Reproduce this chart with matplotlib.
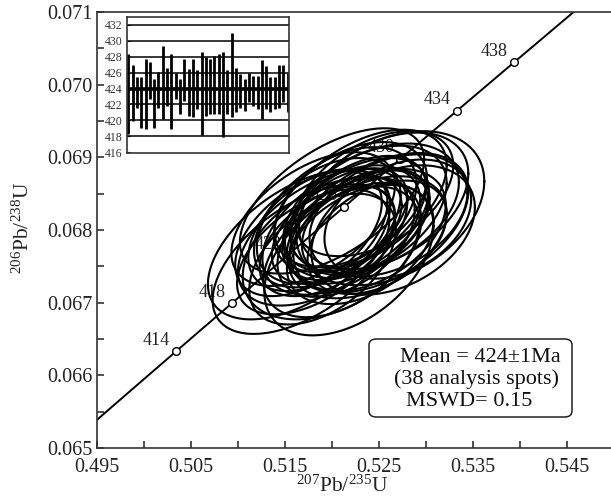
import numpy as np
import matplotlib
matplotlib.use("Agg")
import matplotlib.pyplot as plt
from matplotlib.ticker import FixedLocator, FormatStrFormatter
from matplotlib.patches import FancyBboxPatch

plt.rcParams['font.family'] = ['Liberation Serif', 'DejaVu Serif']
plt.rcParams['mathtext.fontset'] = 'custom'
plt.rcParams['mathtext.rm'] = 'Liberation Serif'
plt.rcParams['mathtext.it'] = 'Liberation Serif:italic'

# ---------------- data ----------------
# concordia age marks (Ma)
concordia_ages = [414, 418, 422, 426, 430, 434, 438]
concordia_range = [405, 445]
lambda238 = 1.55125e-10
lambda235 = 9.8485e-10

# error ellipses: centres (207Pb/235U, 206Pb/238U), half-extents, correlation
ell_x = [0.5190, 0.5210, 0.5225, 0.5200, 0.5235, 0.5180, 0.5245, 0.5215, 0.5170, 0.5260,
         0.5228, 0.5195, 0.5240, 0.5205, 0.5262, 0.5185, 0.5230, 0.5250, 0.5165, 0.5220,
         0.5210, 0.5255, 0.5200, 0.5238, 0.5218, 0.5190, 0.5265, 0.5245, 0.5175, 0.5228,
         0.5205, 0.5235, 0.5215, 0.5248, 0.5195, 0.5230, 0.5270, 0.5180]
ell_y = [0.06790, 0.06800, 0.06815, 0.06775, 0.06825, 0.06770, 0.06830, 0.06790, 0.06760, 0.06820,
         0.06805, 0.06810, 0.06800, 0.06820, 0.06830, 0.06800, 0.06780, 0.06810, 0.06780, 0.06835,
         0.06770, 0.06840, 0.06840, 0.06790, 0.06760, 0.06760, 0.06800, 0.06850, 0.06795, 0.06825,
         0.06800, 0.06810, 0.06815, 0.06790, 0.06785, 0.06840, 0.06815, 0.06815]
ell_sx = [0.0090, 0.0084, 0.0078, 0.0095, 0.0087, 0.0081, 0.0090, 0.0073, 0.0097, 0.0084,
          0.0076, 0.0078, 0.0081, 0.0085, 0.0100, 0.0074, 0.0078, 0.0095, 0.0097, 0.0081,
          0.0083, 0.0090, 0.0098, 0.0084, 0.0090, 0.0078, 0.0087, 0.0084, 0.0078, 0.0072,
          0.0069, 0.0067, 0.0065, 0.0074, 0.0072, 0.0092, 0.0078, 0.0087]
ell_sy = [0.00094, 0.00089, 0.00084, 0.00098, 0.00091, 0.00086, 0.00089, 0.00082, 0.00103, 0.00084,
          0.00079, 0.00089, 0.00084, 0.00094, 0.00106, 0.00084, 0.00082, 0.00096, 0.00103, 0.00086,
          0.00090, 0.00094, 0.00100, 0.00084, 0.00105, 0.00090, 0.00089, 0.00086, 0.00086, 0.00077,
          0.00074, 0.00072, 0.00070, 0.00078, 0.00076, 0.00098, 0.00082, 0.00092]
ell_rho = [0.50, 0.45, 0.47, 0.40, 0.43, 0.51, 0.40, 0.45, 0.55, 0.37,
           0.48, 0.43, 0.42, 0.47, 0.35, 0.45, 0.40, 0.45, 0.53, 0.43,
           0.45, 0.40, 0.57, 0.40, 0.43, 0.47, 0.35, 0.45, 0.50, 0.45,
           0.47, 0.43, 0.45, 0.40, 0.48, 0.50, 0.33, 0.51]

# inset: individual ages with error bars (Ma)
age_low = [418.3, 419.9, 421.6, 419.1, 418.9, 422.7, 419.0, 421.6, 420.2, 421.8,
           418.9, 422.7, 420.8, 422.5, 420.6, 420.4, 421.4, 418.2, 420.6, 420.8,
           420.8, 420.8, 417.9, 420.8, 420.4, 421.0, 421.6, 421.2, 422.3, 421.8,
           421.4, 420.2, 421.4, 421.0, 421.4, 421.6, 422.3, 421.0]
age_high = [428.4, 427.0, 425.5, 425.5, 427.7, 427.3, 425.2, 426.1, 429.3, 426.6,
            428.3, 426.0, 425.2, 427.7, 426.5, 427.7, 426.3, 428.6, 428.0, 427.7,
            428.1, 428.3, 428.6, 426.3, 431.0, 426.6, 425.8, 425.2, 425.9, 425.6,
            425.6, 427.6, 426.8, 425.4, 425.4, 427.0, 427.0, 426.0]
mean_age = 424
inset_grid = [418, 420, 422, 426, 428, 430, 432]
inset_ticks = [416, 418, 420, 422, 424, 426, 428, 430, 432]

x_major = [0.495, 0.505, 0.515, 0.525, 0.535, 0.545]
x_minor = [0.500, 0.510, 0.520, 0.530, 0.540]
y_major = [0.065, 0.066, 0.067, 0.068, 0.069, 0.070, 0.071]
y_minor = [0.0655, 0.0665, 0.0675, 0.0685, 0.0695, 0.0705]

info_lines = ["Mean = 424\u00b11Ma", "(38 analysis spots)", "MSWD= 0.15"]

# ---------------- figure ----------------
W, H = 611, 504
fig = plt.figure(figsize=(W / 100, H / 100), dpi=100)
ax = fig.add_axes([97 / W, (H - 448) / H, (W - 97) / W, (448 - 12) / H])
ax.set_xlim(0.495, 0.495 + (W - 97) / 9400)
ax.set_ylim(0.065, 0.071)

spine_c = '#333333'
for s in ['left', 'bottom', 'top']:
    ax.spines[s].set_color(spine_c)
    ax.spines[s].set_linewidth(1.2)
ax.spines['right'].set_visible(False)

ax.xaxis.set_major_locator(FixedLocator(x_major))
ax.xaxis.set_minor_locator(FixedLocator(x_minor))
ax.yaxis.set_major_locator(FixedLocator(y_major))
ax.yaxis.set_minor_locator(FixedLocator(y_minor))
ax.xaxis.set_major_formatter(FormatStrFormatter('%.3f'))
ax.yaxis.set_major_formatter(FormatStrFormatter('%.3f'))
ax.tick_params(which='both', direction='in', length=5, width=1.2, color=spine_c,
               labelsize=14.5, top=False, right=False, labelcolor='#222222')
ax.tick_params(axis='x', pad=7)
ax.tick_params(axis='y', pad=3)

ax.set_xlabel(r'$^{207}$Pb/$^{235}$U', fontsize=15.5, color='#222222')
ax.xaxis.set_label_coords((342 - 97) / (W - 97), -(476 - 448) / 436)
ax.set_ylabel(r'$^{206}$Pb/$^{238}$U', fontsize=15.5, color='#222222')
ax.yaxis.set_label_coords(-(97 - 34) / (W - 97), (448 - 228) / 436)

# concordia
t = np.linspace(concordia_range[0], concordia_range[1], 300) * 1e6
cx = np.exp(lambda235 * t) - 1
cy = np.exp(lambda238 * t) - 1
ax.plot(cx, cy, color='black', lw=1.4, zorder=2)
for a in concordia_ages:
    px = np.exp(lambda235 * a * 1e6) - 1
    py = np.exp(lambda238 * a * 1e6) - 1
    ax.plot([px], [py], 'o', ms=5.5, mfc='white', mec='black', mew=1.0, zorder=4)
    ax.annotate(str(a), (px, py), xytext=(-14, 8), textcoords='offset points',
                fontsize=13, ha='center', va='center', color='#222222', zorder=3)

# ellipses
tt = np.linspace(0, 2 * np.pi, 240)
for xc, yc, sx, sy, r in zip(ell_x, ell_y, ell_sx, ell_sy, ell_rho):
    ex = xc + sx * np.cos(tt)
    ey = yc + sy * (r * np.cos(tt) + np.sqrt(1 - r * r) * np.sin(tt))
    ax.plot(ex, ey, color='black', lw=1.5, zorder=5)

# info box
box = FancyBboxPatch((369 / W, (H - 417) / H), (572 - 369) / W, (417 - 339) / H,
                     boxstyle='round,pad=0,rounding_size=0.012', transform=fig.transFigure,
                     facecolor='white', edgecolor='#222222', lw=1.1, zorder=6)
fig.patches.append(box)
line_xc = [480, 476, 469]
for i, line in enumerate(info_lines):
    fig.text(line_xc[i] / W, (H - (357 + 22 * i)) / H, line, ha='center', va='center',
             fontsize=16, color='#111111', zorder=10)

# inset
ins = fig.add_axes([127 / W, (H - 153) / H, (289 - 127) / W, (153 - 17) / H])
ins.set_facecolor('white')
for s in ins.spines.values():
    s.set_color(spine_c)
    s.set_linewidth(1.2)
ins.set_xlim(0.7, len(age_low) + 0.3)
ins.set_ylim(415.9, 433.0)
ins.set_xticks([])
ins.yaxis.set_major_locator(FixedLocator(inset_ticks))
ins.tick_params(axis='y', direction='in', length=2, width=0.8, labelsize=8.5,
                labelcolor='#333333', pad=3)
for g in inset_grid:
    ins.axhline(g, color='black', lw=1.1)
ins.axhline(mean_age, color='black', lw=2.6)
xs = np.arange(1, len(age_low) + 1)
ins.vlines(xs, age_low, age_high, color='black', lw=2.0)

fig.savefig('out.png', dpi=100)
